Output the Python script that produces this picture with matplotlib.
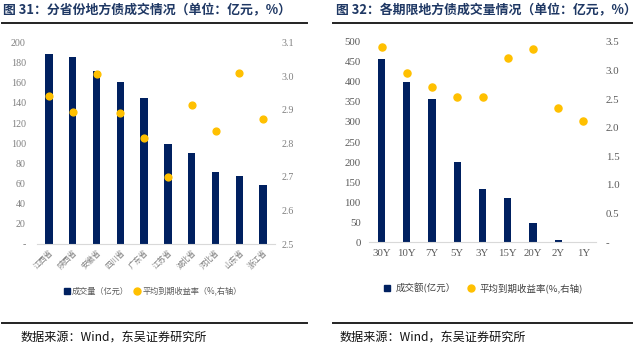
import matplotlib
matplotlib.use("Agg")
import matplotlib.pyplot as plt
from matplotlib.lines import Line2D
from matplotlib.ticker import FixedLocator

plt.rcParams['font.family'] = ['Liberation Serif', 'Noto Sans CJK SC', 'DejaVu Sans']

# ---- data: left chart ----
provinces = ['江西省', '陕西省', '安徽省', '四川省', '广东省', '江苏省', '湖北省', '河北省', '山东省', '浙江省']
prov_volume = [189, 186, 172, 160.5, 145, 99.5, 90.6, 71, 67.5, 59]
prov_yield = [2.942, 2.894, 3.005, 2.89, 2.815, 2.70, 2.913, 2.837, 3.009, 2.872]
left_y_ticks = [0, 20, 40, 60, 80, 100, 120, 140, 160, 180, 200]
left_y_labels = ['-', '20', '40', '60', '80', '100', '120', '140', '160', '180', '200']
left_y2_ticks = [2.5, 2.6, 2.7, 2.8, 2.9, 3.0, 3.1]
left_y2_labels = ['2.5', '2.6', '2.7', '2.8', '2.9', '3.0', '3.1']

# ---- data: right chart ----
tenors = ['30Y', '10Y', '7Y', '5Y', '3Y', '15Y', '20Y', '2Y', '1Y']
tenor_volume = [458, 400, 356, 200, 134, 110, 47, 5, 0]
tenor_yield = [3.41, 2.95, 2.71, 2.54, 2.53, 3.21, 3.37, 2.35, 2.12]
right_y_ticks = [0, 50, 100, 150, 200, 250, 300, 350, 400, 450, 500]
right_y_labels = ['0', '50', '100', '150', '200', '250', '300', '350', '400', '450', '500']
right_y2_ticks = [0, 0.5, 1.0, 1.5, 2.0, 2.5, 3.0, 3.5]
right_y2_labels = ['-', '0.5', '1.0', '1.5', '2.0', '2.5', '3.0', '3.5']

NAVY = '#002060'
GOLD = '#FFC000'
CJK = ['Noto Sans CJK SC', 'DejaVu Sans']

fig = plt.figure(figsize=(6.4, 3.47), dpi=100)
W, H = 640, 347

def fx(px):
    return px / W

def fy(py):
    return 1 - py / H

# ---- titles / rules / sources ----
fig.text(fx(3), fy(10), '图 31：分省份地方债成交情况（单位：亿元，%）', family=CJK,
         fontsize=9.3, fontweight='bold', color='#1F3864', va='center', ha='left')
fig.text(fx(336), fy(10), '图 32：各期限地方债成交量情况（单位：亿元，%）', family=CJK,
         fontsize=9.3, fontweight='bold', color='#1F3864', va='center', ha='left')
for x0, x1 in [(2, 307), (333, 632)]:
    fig.add_artist(Line2D([fx(x0), fx(x1)], [fy(23), fy(23)], color='#222222', lw=1.4))
    fig.add_artist(Line2D([fx(x0), fx(x1)], [fy(323), fy(323)], color='#222222', lw=1.4))
fig.text(fx(21), fy(337), '数据来源：Wind，东吴证券研究所', family=CJK, fontsize=8.7,
         color='#111111', va='center', ha='left')
fig.text(fx(340), fy(337), '数据来源：Wind，东吴证券研究所', family=CJK, fontsize=8.7,
         color='#111111', va='center', ha='left')

def style_axes(ax, ax2, color):
    for a in (ax, ax2):
        for s in ['top', 'right', 'left']:
            a.spines[s].set_visible(False)
        a.spines['bottom'].set_color('#D9D9D9')
        a.tick_params(axis='both', length=0, colors=color)
    ax2.spines['bottom'].set_visible(False)

# ---- left chart ----
axL = fig.add_axes([fx(37), fy(244), fx(275 - 37), (244 - 42.5) / H])
xL = list(range(len(provinces)))
axL.bar(xL, prov_volume, width=0.31, color=NAVY, zorder=2)
axL.set_xlim(-0.5, len(provinces) - 0.5)
axL.set_ylim(0, 200)
axL.yaxis.set_major_locator(FixedLocator(left_y_ticks))
axL.set_yticklabels(left_y_labels, fontsize=7.2)
axL.set_xticks(xL)
axL.set_xticklabels(provinces, family=CJK, fontsize=5.6, rotation=45, ha='right',
                    rotation_mode='anchor')
axL2 = axL.twinx()
axL2.scatter(xL, prov_yield, s=24, color=GOLD, zorder=3)
axL2.set_ylim(2.5, 3.1)
axL2.yaxis.set_major_locator(FixedLocator(left_y2_ticks))
axL2.set_yticklabels(left_y2_labels, fontsize=7.2)
style_axes(axL, axL2, '#7F7F7F')
axL.tick_params(axis='y', pad=8)
axL2.tick_params(axis='y', pad=5)
axL.tick_params(axis='x', pad=3)

hL = [Line2D([], [], marker='s', ls='', color=NAVY, markersize=4),
      Line2D([], [], marker='o', ls='', color=GOLD, markersize=5)]
fig.legend(hL, ['成交量（亿元）', '平均到期收益率（%,右轴）'], loc='center',
           bbox_to_anchor=(fx(152), fy(291)), ncol=2, frameon=False,
           prop={'family': CJK, 'size': 5.9}, handletextpad=0.1, columnspacing=0.6,
           handlelength=1.0, labelcolor='#595959')

# ---- right chart ----
axR = fig.add_axes([fx(369), fy(242.3), fx(596 - 369), (242.3 - 41.7) / H])
xR = list(range(len(tenors)))
axR.bar(xR, tenor_volume, width=0.29, color=NAVY, zorder=2)
axR.set_xlim(-0.5, len(tenors) - 0.5)
axR.set_ylim(0, 500)
axR.yaxis.set_major_locator(FixedLocator(right_y_ticks))
axR.set_yticklabels(right_y_labels, fontsize=7.8)
axR.set_xticks(xR)
axR.set_xticklabels(tenors, fontsize=7.8)
axR2 = axR.twinx()
axR2.scatter(xR, tenor_yield, s=26, color=GOLD, zorder=3)
axR2.set_ylim(0, 3.5)
axR2.yaxis.set_major_locator(FixedLocator(right_y2_ticks))
axR2.set_yticklabels(right_y2_labels, fontsize=7.8)
style_axes(axR, axR2, '#595959')
axR.tick_params(axis='y', pad=6)
axR2.tick_params(axis='y', pad=7)
axR.tick_params(axis='x', pad=5)

hR = [Line2D([], [], marker='s', ls='', color=NAVY, markersize=4.5),
      Line2D([], [], marker='o', ls='', color=GOLD, markersize=5)]
fig.legend(hR, ['成交额(亿元）', '平均到期收益率(%,右轴)'], loc='center',
           bbox_to_anchor=(fx(482), fy(288)), ncol=2, frameon=False,
           prop={'family': CJK, 'size': 6.8}, handletextpad=0.3, columnspacing=1.0,
           handlelength=1.2, labelcolor='#404040')

fig.savefig('out.png', dpi=100)
